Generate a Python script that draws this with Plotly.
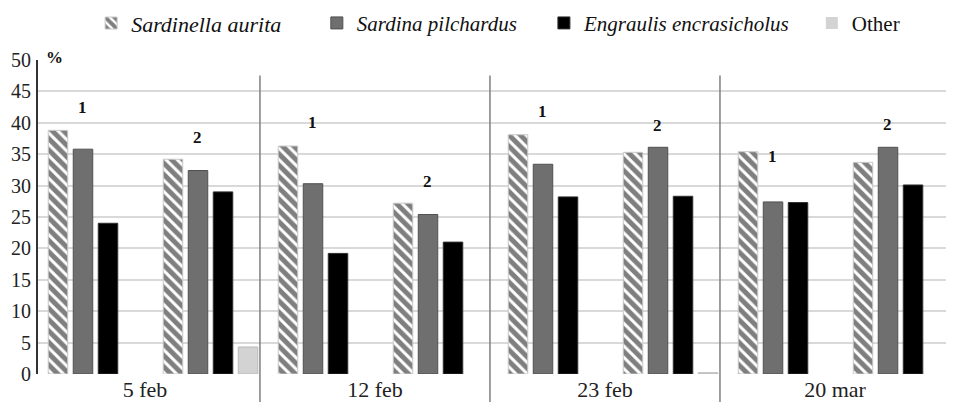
import plotly.graph_objects as go

# ---- data ----
dates = ["5 feb", "12 feb", "23 feb", "20 mar"]
subgroups = ["1", "2"]
species = ["Sardinella aurita", "Sardina pilchardus", "Engraulis encrasicholus", "Other"]

# values per (date, subgroup) in order: 5feb-1, 5feb-2, 12feb-1, 12feb-2, 23feb-1, 23feb-2, 20mar-1, 20mar-2
sardinella_aurita = [38.8, 34.2, 36.3, 27.2, 38.1, 35.3, 35.4, 33.7]
sardina_pilchardus = [35.8, 32.4, 30.3, 25.4, 33.4, 36.1, 27.4, 36.1]
engraulis_encrasicholus = [24.0, 29.0, 19.2, 21.0, 28.2, 28.3, 27.3, 30.1]
other = [0.0, 4.3, 0.0, 0.0, 0.0, 0.2, 0.0, 0.0]

y_ticks = [0, 5, 10, 15, 20, 25, 30, 35, 40, 45, 50]

# ---- layout helpers (positions, not data) ----
label_y = [42.4, 37.6, 40.1, 30.7, 41.8, 39.6, 34.6, 39.8]
label_dx = -0.11
date_tick_offset = -0.07
separators = [1.43, 3.43, 5.43]

FONT = "Liberation Serif"
x_idx = list(range(len(dates) * len(subgroups)))

series = [sardinella_aurita, sardina_pilchardus, engraulis_encrasicholus, other]
base_styles = [
    dict(color="white", lc="#c8c8c8",
         pattern=dict(shape="\\", fgcolor="black", bgcolor="white", size=8, solidity=0.62)),
    dict(color="#6f6f6f", lc="#505050"),
    dict(color="#000000", lc="#303030"),
    dict(color="#d3d3d3", lc="#b8b8b8"),
]
legend_names = ["legend", "legend2", "legend3", "legend4"]
legend_x = [0.058, 0.3044, 0.5523, 0.8448]

fig = go.Figure()
for name, vals, st, lg in zip(species, series, base_styles, legend_names):
    line_colors = [st["lc"] if v > 0 else "rgba(0,0,0,0)" for v in vals]
    marker = dict(color=st["color"], line=dict(color=line_colors, width=1))
    if "pattern" in st:
        marker["pattern"] = st["pattern"]
    fig.add_trace(go.Bar(x=x_idx, y=vals, name=name, marker=marker, legend=lg,
                         hoverinfo="skip"))

legend_sizes = [22, 21, 21, 21]
layout_legends = {}
for i, (lg, lx) in enumerate(zip(legend_names, legend_x)):
    layout_legends[lg] = dict(
        x=lx, y=1.117, xanchor="left", yanchor="middle", orientation="h",
        bgcolor="rgba(0,0,0,0)", borderwidth=0,
        font=dict(family=FONT, size=legend_sizes[i], color="#111111",
                  style="normal" if i == 3 else "italic"),
    )

annotations = []
for i, ly in enumerate(label_y):
    annotations.append(dict(x=x_idx[i] + label_dx, y=ly, xref="x", yref="y",
                            text="<b>%s</b>" % subgroups[i % 2], showarrow=False,
                            font=dict(family=FONT, size=17, color="#111111")))
annotations.append(dict(xref="paper", yref="paper", x=(44 - 38) / 916, y=(374 - 47) / 313.5,
                        text="<b>%</b>", showarrow=False,
                        font=dict(family=FONT, size=17, color="#111111")))

shapes = [dict(type="line", xref="x", yref="paper", x0=s, x1=s, y0=-0.089, y1=0.951,
               line=dict(color="#7f7f7f", width=1.5)) for s in separators]

# page has an 8px body margin: compensate so the plot area lands where the reference has it
fig.update_layout(
    width=954, height=411,
    margin=dict(l=30, r=8, t=52, b=45, autoexpand=False),
    paper_bgcolor="white", plot_bgcolor="white",
    font=dict(family=FONT, size=20, color="#222222"),
    barmode="group", bargap=0.13, bargroupgap=0.22,
    showlegend=True,
    annotations=annotations,
    shapes=shapes,
    **layout_legends,
)
fig.update_xaxes(
    range=[-0.5, 7.465], showgrid=False, zeroline=False, showline=False,
    tickmode="array",
    tickvals=[2 * i + 0.5 + date_tick_offset for i in range(len(dates))],
    ticktext=dates, ticks="",
    tickfont=dict(family=FONT, size=22, color="#222222"),
)
fig.update_yaxes(
    range=[0, 50], tickmode="array", tickvals=y_ticks,
    showgrid=True, gridcolor="#d9d9d9", gridwidth=1.5,
    zeroline=False, showline=True, linecolor="#333333", linewidth=2,
    ticks="", ticklabelstandoff=1,
    tickfont=dict(family=FONT, size=20, color="#222222"),
)

fig.write_html("out.html")
